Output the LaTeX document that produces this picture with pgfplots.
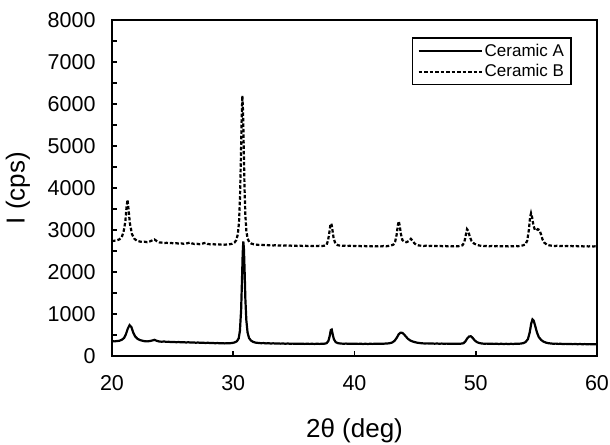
\documentclass[border=0pt]{standalone}
\usepackage{fontspec}
\setmainfont{Liberation Sans}
\usepackage{pgfplots}
\pgfplotsset{compat=1.18}

\pgfplotstableread{
x y
20.0 352
20.2 348
20.4 356
20.6 362
20.8 385
21.0 430
21.15 520
21.3 650
21.45 735
21.6 690
21.75 560
21.9 470
22.1 410
22.3 380
22.5 365
22.7 352
22.9 348
23.1 355
23.3 368
23.5 385
23.7 360
23.9 345
24.1 340
24.3 346
24.5 336
24.7 338
24.9 331
25.1 335
25.3 328
25.5 333
25.7 325
25.9 330
26.1 322
26.3 327
26.5 320
26.7 324
26.9 316
27.1 321
27.3 313
27.5 318
27.7 310
27.9 315
28.1 308
28.3 312
28.5 304
28.7 309
28.9 302
29.1 306
29.3 300
29.5 305
29.7 303
29.9 310
30.1 322
30.3 350
30.45 420
30.55 600
30.65 1100
30.72 1800
30.78 2450
30.83 2730
30.88 2550
30.94 2000
31.0 1350
31.08 850
31.18 560
31.3 430
31.45 370
31.65 335
31.85 318
32.1 310
32.3 305
32.5 308
32.7 300
32.9 304
33.1 298
33.3 302
33.5 296
33.7 300
33.9 294
34.1 298
34.3 292
34.5 297
34.7 291
34.9 295
35.1 290
35.3 294
35.5 289
35.7 293
35.9 288
36.1 292
36.3 288
36.5 291
36.7 287
36.9 292
37.1 288
37.3 291
37.5 292
37.7 305
37.85 360
37.95 470
38.05 620
38.12 630
38.2 520
38.3 400
38.45 330
38.65 305
38.9 296
39.1 292
39.3 296
39.5 290
39.7 294
39.9 289
40.1 293
40.3 288
40.5 292
40.7 287
40.9 291
41.1 287
41.3 291
41.5 288
41.7 292
41.9 289
42.1 294
42.3 290
42.5 295
42.7 298
42.9 305
43.1 320
43.3 360
43.5 440
43.65 520
43.8 555
43.95 550
44.1 510
44.25 460
44.4 410
44.6 370
44.8 345
45.0 328
45.2 315
45.4 308
45.6 302
45.8 298
46.0 301
46.2 295
46.4 299
46.6 293
46.8 297
47.0 292
47.2 296
47.4 291
47.6 295
47.8 290
48.0 294
48.2 290
48.4 293
48.6 289
48.8 295
49.0 305
49.15 350
49.3 420
49.45 465
49.6 470
49.75 430
49.9 375
50.1 330
50.3 308
50.5 298
50.7 292
50.9 295
51.1 289
51.3 293
51.5 288
51.7 292
51.9 287
52.1 291
52.3 286
52.5 290
52.7 286
52.9 290
53.1 287
53.3 292
53.5 290
53.7 296
53.9 305
54.1 330
54.3 400
54.45 560
54.58 780
54.68 870
54.78 840
54.9 720
55.05 560
55.2 450
55.4 380
55.6 340
55.8 318
56.0 305
56.2 298
56.4 292
56.6 295
56.8 288
57.0 291
57.2 285
57.4 289
57.6 284
57.8 287
58.0 282
58.2 286
58.4 281
58.6 285
58.8 280
59.0 284
59.2 279
59.4 283
59.6 278
59.8 282
60.0 279
}\ceramicA

\pgfplotstableread{
x y
20.0 2735
20.2 2745
20.4 2755
20.6 2775
20.8 2830
20.95 2950
21.1 3200
21.2 3550
21.28 3720
21.36 3500
21.48 3150
21.65 2900
21.85 2790
22.05 2745
22.3 2725
22.5 2715
22.7 2720
22.9 2710
23.1 2725
23.3 2750
23.5 2775
23.7 2735
23.9 2705
24.1 2700
24.3 2690
24.5 2695
24.7 2685
24.9 2690
25.1 2680
25.3 2686
25.5 2676
25.7 2682
25.9 2672
26.1 2678
26.3 2690
26.45 2705
26.6 2680
26.8 2668
27.0 2672
27.2 2662
27.4 2670
27.6 2688
27.75 2695
27.9 2668
28.1 2660
28.3 2666
28.5 2656
28.7 2662
28.9 2652
29.1 2658
29.3 2650
29.5 2656
29.7 2660
29.9 2672
30.1 2700
30.25 2760
30.38 2900
30.48 3200
30.56 3800
30.63 4700
30.69 5600
30.75 6200
30.81 5800
30.87 4900
30.93 4000
31.0 3350
31.08 2980
31.18 2800
31.32 2710
31.5 2675
31.7 2660
31.9 2652
32.1 2645
32.3 2650
32.5 2640
32.7 2646
32.9 2636
33.1 2642
33.3 2632
33.5 2638
33.7 2628
33.9 2634
34.1 2626
34.3 2632
34.5 2624
34.7 2630
34.9 2622
35.1 2628
35.3 2620
35.5 2627
35.7 2620
35.9 2626
36.1 2619
36.3 2625
36.5 2618
36.7 2624
36.9 2617
37.1 2623
37.3 2618
37.5 2626
37.7 2650
37.82 2750
37.93 2950
38.02 3140
38.1 3150
38.18 3000
38.28 2800
38.42 2680
38.6 2640
38.8 2628
39.0 2622
39.2 2628
39.4 2618
39.6 2625
39.8 2616
40.0 2622
40.2 2614
40.4 2620
40.6 2613
40.8 2619
41.0 2612
41.2 2618
41.4 2611
41.6 2617
41.8 2610
42.0 2616
42.2 2610
42.4 2618
42.6 2612
42.8 2620
43.0 2630
43.2 2650
43.35 2720
43.47 2880
43.57 3100
43.65 3210
43.73 3100
43.83 2900
43.95 2760
44.1 2720
44.3 2710
44.5 2740
44.65 2790
44.8 2740
44.95 2680
45.1 2650
45.3 2632
45.5 2626
45.7 2620
45.9 2626
46.1 2617
46.3 2623
46.5 2615
46.7 2621
46.9 2613
47.1 2620
47.3 2612
47.5 2618
47.7 2611
47.9 2617
48.1 2610
48.3 2616
48.5 2611
48.7 2620
48.9 2635
49.05 2700
49.18 2880
49.28 3020
49.38 2980
49.5 2850
49.65 2740
49.85 2680
50.05 2650
50.3 2630
50.5 2622
50.7 2616
50.9 2621
51.1 2613
51.3 2619
51.5 2611
51.7 2617
51.9 2610
52.1 2616
52.3 2609
52.5 2615
52.7 2609
52.9 2616
53.1 2610
53.3 2618
53.5 2614
53.7 2622
53.9 2635
54.1 2660
54.25 2750
54.38 3000
54.48 3300
54.56 3400
54.65 3300
54.75 3120
54.88 3000
55.0 2990
55.12 3020
55.25 3000
55.38 2900
55.5 2780
55.65 2700
55.85 2655
56.05 2635
56.3 2625
56.5 2619
56.7 2624
56.9 2616
57.1 2621
57.3 2614
57.5 2619
57.7 2612
57.9 2618
58.1 2611
58.3 2617
58.5 2610
58.7 2616
58.9 2609
59.1 2615
59.3 2609
59.5 2614
59.7 2608
59.9 2613
60.0 2610
}\ceramicB

\begin{document}
\begin{tikzpicture}
\begin{axis}[
    scale only axis,
    width=485bp, height=336bp,
    xmin=20, xmax=60, ymin=0, ymax=8000,
    xtick={20,30,...,60},
    ytick={0,1000,...,8000},
    minor ytick={500,1500,...,7500},
    xtick pos=bottom, ytick pos=left,
    tick align=inside,
    major tick length=5bp, minor tick length=5bp,
    every tick/.style={black, line width=1.5bp},
    axis line style={line width=2bp},
    /pgf/number format/assume math mode=true,
    /pgf/number format/set thousands separator={},
    ticklabel style={font=\fontsize{21.5bp}{25bp}\selectfont},
    yticklabel style={xshift=-13bp},
    xticklabel style={yshift=-16bp},
    xlabel={2θ (deg)},
    ylabel={I (cps)},
    label style={font=\fontsize{26bp}{30bp}\selectfont},
    xlabel style={at={(axis description cs:0.5,-0.223)}, anchor=center},
    ylabel style={at={(axis description cs:-0.194,0.5)}, anchor=center},
    legend style={at={(axis description cs:0.948,0.949)}, anchor=north east,
        draw=black, line width=1.5bp, font=\fontsize{17bp}{20bp}\selectfont,
        inner xsep=5bp, inner ysep=4bp, row sep=3bp},
    legend cell align=left,
    legend image code/.code={\draw[#1, line width=2bp] (0bp,0bp) -- (63bp,0bp);},
]
\addplot[black, line width=2.2bp] table[x=x, y=y] {\ceramicA};
\addlegendentry{Ceramic A}
\addplot[black, line width=2.2bp, dash pattern=on 3.5bp off 2bp] table[x=x, y=y] {\ceramicB};
\addlegendentry{Ceramic B}
\end{axis}
\pgfresetboundingbox
\path[use as bounding box] (current axis.south west) ++(-112bp,-89bp) rectangle ++(610bp,445bp);
\end{tikzpicture}
\end{document}
